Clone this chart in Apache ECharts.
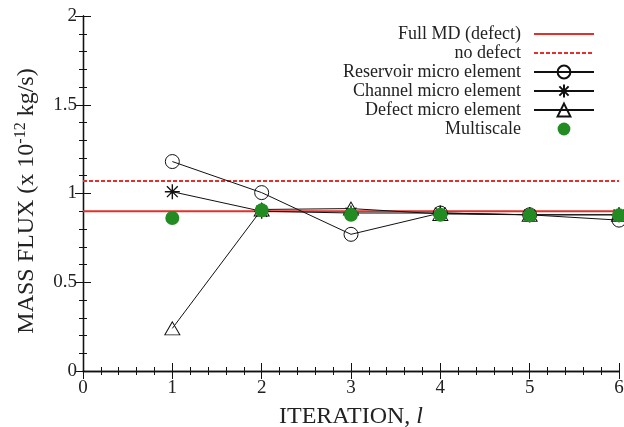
<!DOCTYPE html>
<html>
<head>
<meta charset="utf-8">
<script src="https://cdn.jsdelivr.net/npm/echarts@6/dist/echarts.min.js"></script>
<style>
  html, body { margin: 0; padding: 0; background: #fff; }
  #chart { width: 624px; height: 427px; }
</style>
</head>
<body>
<div id="chart"></div>
<script>
// Iterations of the coupling scheme
const iterations = [1, 2, 3, 4, 5, 6];

// Reference levels from full MD runs (x 1e-12 kg/s)
const fullMdDefect = 0.9;
const noDefect = 1.07;
const refSpan = [0, 6];

// Mass flux per micro element and the multiscale result
const reservoir = [1.18, 1.005, 0.77, 0.89, 0.88, 0.85];
const channel = [1.01, 0.9, 0.89, 0.89, 0.88, 0.88];
const defect = [0.24, 0.91, 0.915, 0.885, 0.88, 0.88];
const multiscale = [0.862, 0.905, 0.88, 0.88, 0.877, 0.877];

// Axis ticks
const xTicks = [0, 1, 2, 3, 4, 5, 6];
const yTicks = [0, 0.5, 1, 1.5, 2];

const FONT = '"Liberation Serif", "DejaVu Serif", serif';
const RED = '#e3302a';
const GREEN = '#228b22';
const INK = '#111';

const pair = (xs, ys) => xs.map((x, i) => [x, ys[i]]);
const asterisk = 'path://M0,-1L0,1M-1,0L1,0M-0.72,-0.72L0.72,0.72M-0.72,0.72L0.72,-0.72';

function axisBase(show, margin) {
  return {
    axisLine: { show: true, lineStyle: { color: INK, width: 1.3 } },
    axisTick: { show: true, inside: true, length: 8, lineStyle: { color: INK, width: 1 } },
    minorTick: { show: true, splitNumber: 5, length: 4, lineStyle: { color: INK, width: 1 } },
    splitLine: { show: false },
    axisLabel: {
      show: show,
      margin: margin,
      fontFamily: FONT,
      fontSize: 19,
      color: '#222'
    }
  };
}

const xBase = {
  type: 'value',
  min: xTicks[0],
  max: xTicks[xTicks.length - 1],
  interval: 1
};
const yBase = {
  type: 'value',
  min: yTicks[0],
  max: yTicks[yTicks.length - 1],
  interval: 0.5
};

const chart = echarts.init(document.getElementById('chart'), null, { renderer: 'canvas' });

chart.setOption({
  backgroundColor: '#fff',
  animation: false,
  grid: { left: 83, right: 5, top: 16, bottom: 56, containLabel: false, outerBoundsMode: 'none' },
  xAxis: [
    Object.assign({}, xBase, axisBase(true, 8), {
      position: 'bottom',
      name: 'ITERATION, {it|l}',
      nameLocation: 'middle',
      nameGap: 34,
      nameTextStyle: {
        fontFamily: FONT,
        fontSize: 24,
        color: '#222',
        rich: { it: { fontFamily: FONT, fontSize: 24, fontStyle: 'italic', color: '#222' } }
      }
    }),
    Object.assign({}, xBase, axisBase(false, 8), { position: 'top' })
  ],
  yAxis: [
    Object.assign({}, yBase, axisBase(true, 6), {
      position: 'left',
      name: 'MASS FLUX (x 10{sup|-12} kg/s)',
      nameLocation: 'middle',
      nameGap: 42,
      nameTextStyle: {
        fontFamily: FONT,
        fontSize: 24,
        color: '#222',
        padding: [0, 15, 0, 0],
        rich: { sup: { fontFamily: FONT, fontSize: 16, color: '#222', verticalAlign: 'top', padding: [0, 0, 12, 0] } }
      }
    }),
    Object.assign({}, yBase, axisBase(false, 6), { position: 'right' })
  ],
  legend: {
    orient: 'vertical',
    align: 'right',
    right: 29,
    top: 25,
    padding: 0,
    itemWidth: 60,
    itemHeight: 16,
    itemGap: 1,
    selectedMode: false,
    textStyle: {
      fontFamily: FONT,
      fontSize: 18,
      lineHeight: 16,
      color: '#222',
      padding: [0, 8, 0, 0]
    },
    data: [
      { name: 'Full MD (defect)', itemStyle: { opacity: 0 } },
      { name: 'no defect', itemStyle: { opacity: 0 } },
      'Reservoir micro element',
      'Channel micro element',
      'Defect micro element',
      'Multiscale'
    ]
  },
  series: [
    {
      name: 'Full MD (defect)',
      type: 'line',
      data: pair(refSpan, [fullMdDefect, fullMdDefect]),
      symbol: 'none',
      lineStyle: { color: RED, width: 2 },
      itemStyle: { color: RED },
      z: 2
    },
    {
      name: 'no defect',
      type: 'line',
      data: pair(refSpan, [noDefect, noDefect]),
      symbol: 'none',
      lineStyle: { color: RED, width: 2, type: [4, 2] },
      itemStyle: { color: RED },
      z: 2
    },
    {
      name: 'Reservoir micro element',
      type: 'line',
      data: pair(iterations, reservoir),
      symbol: 'circle',
      symbolSize: 14,
      lineStyle: { color: INK, width: 1 },
      itemStyle: { color: 'rgba(0,0,0,0)', borderColor: INK, borderWidth: 1 },
      z: 3
    },
    {
      name: 'Channel micro element',
      type: 'line',
      data: pair(iterations, channel),
      symbol: asterisk,
      symbolSize: 15,
      lineStyle: { color: INK, width: 1 },
      itemStyle: { color: 'rgba(0,0,0,0)', borderColor: INK, borderWidth: 1.4 },
      z: 3
    },
    {
      name: 'Defect micro element',
      type: 'line',
      data: pair(iterations, defect),
      symbol: 'triangle',
      symbolSize: [15, 13],
      lineStyle: { color: INK, width: 1 },
      itemStyle: { color: 'rgba(0,0,0,0)', borderColor: INK, borderWidth: 1 },
      z: 3
    },
    {
      name: 'Multiscale',
      type: 'line',
      data: pair(iterations, multiscale),
      symbol: 'circle',
      symbolSize: 14,
      lineStyle: { opacity: 0, width: 0 },
      itemStyle: { color: GREEN, borderWidth: 0 },
      z: 4
    }
  ]
});
</script>
</body>
</html>
